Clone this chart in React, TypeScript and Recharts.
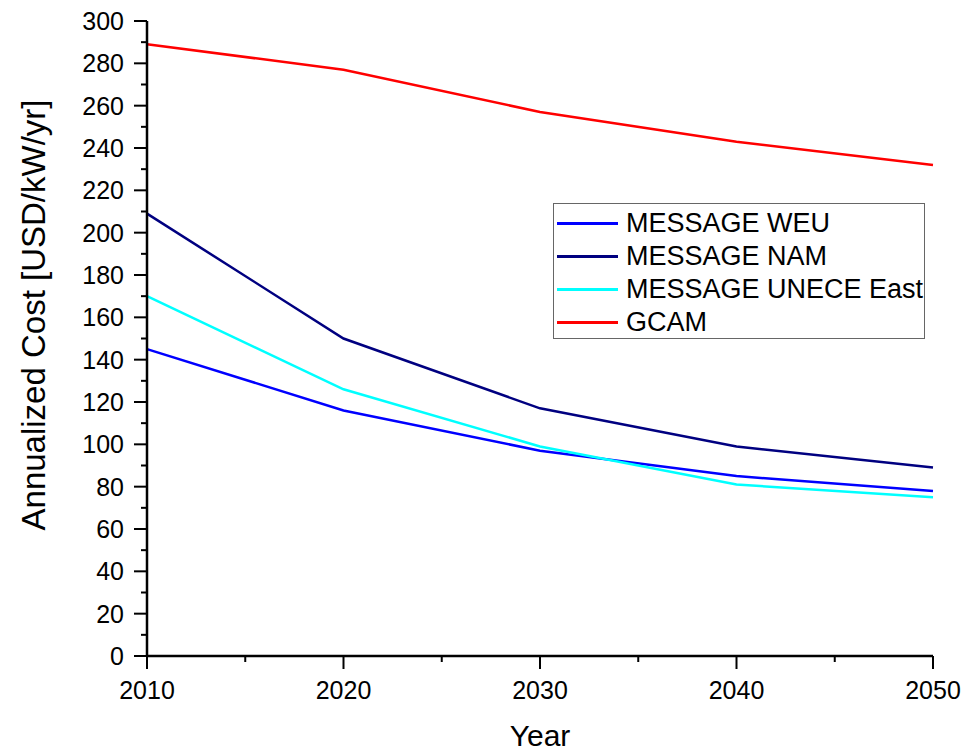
import React from 'react';
import { LineChart, Line, XAxis, YAxis, Legend } from 'recharts';

const years = [2010, 2020, 2030, 2040, 2050];
const messageWEU = [145, 116, 97, 85, 78];
const messageNAM = [209, 150, 117, 99, 89];
const messageUNECE = [170, 126, 99, 81, 75];
const gcam = [289, 277, 257, 243, 232];

const xTicks = [2010, 2015, 2020, 2025, 2030, 2035, 2040, 2045, 2050];
const xMajor = [2010, 2020, 2030, 2040, 2050];
const yTicks = [0, 10, 20, 30, 40, 50, 60, 70, 80, 90, 100, 110, 120, 130, 140, 150, 160, 170, 180, 190, 200, 210, 220, 230, 240, 250, 260, 270, 280, 290, 300];
const yMajor = [0, 20, 40, 60, 80, 100, 120, 140, 160, 180, 200, 220, 240, 260, 280, 300];

const seriesNames = ['MESSAGE WEU', 'MESSAGE NAM', 'MESSAGE UNECE East', 'GCAM'];
const seriesColors = ['#0000ff', '#000080', '#00ffff', '#ff0000'];

const data = years.map((y, i) => ({
  year: y,
  weu: messageWEU[i],
  nam: messageNAM[i],
  unece: messageUNECE[i],
  gcam: gcam[i],
}));

const FONT = '"Liberation Sans", Arial, sans-serif';

const XTick = (props: any) => {
  const { x, y, payload } = props;
  const major = xMajor.includes(payload.value);
  return (
    <g>
      <line x1={x} x2={x} y1={y} y2={y + (major ? 13 : 6)} stroke="#000" strokeWidth={2} />
      {major && (
        <text x={x} y={y + 43} textAnchor="middle" fontSize={25} fontFamily={FONT} fill="#000">
          {payload.value}
        </text>
      )}
    </g>
  );
};

const YTick = (props: any) => {
  const { x, y, payload } = props;
  const major = yMajor.includes(payload.value);
  return (
    <g>
      <line x1={x - (major ? 13 : 6)} x2={x} y1={y} y2={y} stroke="#000" strokeWidth={2} />
      {major && (
        <text x={x - 23} y={y} textAnchor="end" dominantBaseline="central" fontSize={25} fontFamily={FONT} fill="#000">
          {payload.value}
        </text>
      )}
    </g>
  );
};

const LegendContent = (props: any) => {
  const payload = [...(props.payload || [])].sort(
    (a: any, b: any) => seriesNames.indexOf(a.value) - seriesNames.indexOf(b.value)
  );
  return (
    <div
      style={{
        width: 372,
        height: 136,
        boxSizing: 'border-box',
        border: '1.5px solid #666',
        background: '#fff',
        paddingTop: 3,
        fontFamily: FONT,
      }}
    >
      {payload.map((p: any) => (
        <div key={p.value} style={{ display: 'flex', alignItems: 'center', height: 33 }}>
          <div style={{ width: 61, height: 2.5, background: p.color, marginLeft: 3 }} />
          <span style={{ marginLeft: 8, fontSize: 27, color: '#000', lineHeight: '33px', whiteSpace: 'nowrap' }}>
            {p.value}
          </span>
        </div>
      ))}
    </div>
  );
};

export default function App() {
  return (
    <div style={{ position: 'absolute', left: 0, top: 0, width: 971, height: 752, background: '#fff' }}>
      <LineChart width={971} height={752} data={data} margin={{ top: 21, right: 38, bottom: 0, left: 0 }}>
        <XAxis
          dataKey="year"
          type="number"
          domain={[2010, 2050]}
          ticks={xTicks}
          interval={0}
          height={96}
          tickSize={0}
          tickMargin={0}
          tickLine={false}
          axisLine={{ stroke: '#000', strokeWidth: 2.5 }}
          tick={<XTick />}
          label={{
            content: () => (
              <text x={540} y={746} textAnchor="middle" fontSize={30} fontFamily={FONT} fill="#000">
                Year
              </text>
            ),
          }}
        />
        <YAxis
          type="number"
          domain={[0, 300]}
          ticks={yTicks}
          interval={0}
          width={147}
          tickSize={0}
          tickMargin={0}
          tickLine={false}
          axisLine={{ stroke: '#000', strokeWidth: 2.5 }}
          tick={<YTick />}
          label={{
            content: () => (
              <text
                x={45}
                y={315}
                transform="rotate(-90 45 315)"
                textAnchor="middle"
                fontSize={33}
                fontFamily={FONT}
                fill="#000"
              >
                Annualized Cost [USD/kW/yr]
              </text>
            ),
          }}
        />
        <Legend
          layout="vertical"
          align="center"
          verticalAlign="middle"
          itemSorter={null as any}
          content={<LegendContent />}
          wrapperStyle={{ left: 553, top: 203, width: 372, height: 136 }}
        />
        <Line type="linear" dataKey="weu" name={seriesNames[0]} stroke={seriesColors[0]} strokeWidth={2.5} dot={false} isAnimationActive={false} />
        <Line type="linear" dataKey="nam" name={seriesNames[1]} stroke={seriesColors[1]} strokeWidth={2.5} dot={false} isAnimationActive={false} />
        <Line type="linear" dataKey="unece" name={seriesNames[2]} stroke={seriesColors[2]} strokeWidth={2.5} dot={false} isAnimationActive={false} />
        <Line type="linear" dataKey="gcam" name={seriesNames[3]} stroke={seriesColors[3]} strokeWidth={2.5} dot={false} isAnimationActive={false} />
      </LineChart>
    </div>
  );
}
